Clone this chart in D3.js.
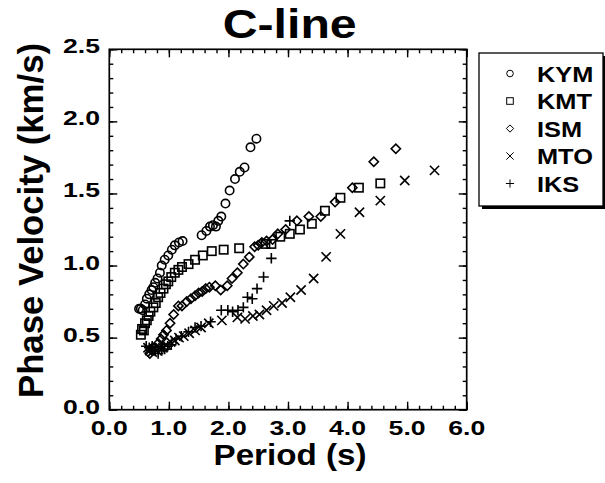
<!DOCTYPE html>
<html lang="en">
<head>
<meta charset="UTF-8"/>
<title>C-line phase velocity</title>
<script src="https://d3js.org/d3.v7.min.js"></script>
<style>
  body { margin: 0; background: #fff; }
  svg { display: block; }
  text { font-family: "Liberation Sans", Arial, sans-serif; font-weight: bold; fill: #000; }
</style>
</head>
<body>
<script>

// station names, in legend order
var stations = ["KYM", "KMT", "ISM", "MTO", "IKS"];

// [period (s), phase velocity (km/s)]
var kym = [[0.50,0.70],[0.53,0.70],[0.56,0.69],[0.60,0.73],[0.63,0.77],[0.67,0.80],[0.71,0.83],
           [0.74,0.85],[0.77,0.88],[0.81,0.91],[0.85,0.95],[0.88,1.00],[0.93,1.04],[0.99,1.07],
           [1.05,1.11],[1.10,1.14],[1.17,1.16],[1.23,1.17],[1.55,1.21],[1.63,1.24],[1.69,1.27],
           [1.74,1.28],[1.79,1.27],[1.83,1.31],[1.88,1.34],[1.95,1.43],[2.02,1.52],[2.11,1.60],
           [2.19,1.65],[2.27,1.68],[2.37,1.82],[2.47,1.88]];

var kmt = [[0.53,0.52],[0.55,0.56],[0.58,0.55],[0.60,0.60],[0.63,0.62],[0.66,0.65],[0.69,0.68],
           [0.74,0.71],[0.78,0.74],[0.82,0.78],[0.86,0.81],[0.91,0.84],[0.95,0.87],[0.99,0.89],
           [1.04,0.92],[1.10,0.95],[1.16,0.97],[1.22,0.99],[1.33,1.01],[1.44,1.04],[1.57,1.07],
           [1.72,1.10],[1.92,1.11],[2.18,1.12],[2.62,1.15],[2.72,1.15],[2.87,1.20],[3.03,1.22],
           [3.20,1.25],[3.40,1.29],[3.62,1.38],[3.88,1.47],[4.19,1.54],[4.55,1.57]];

var ism = [[0.68,0.39],[0.72,0.41],[0.76,0.43],[0.82,0.46],[0.87,0.49],[0.91,0.52],[0.96,0.55],
           [1.02,0.60],[1.08,0.66],[1.16,0.72],[1.22,0.72],[1.30,0.75],[1.37,0.77],[1.44,0.79],
           [1.50,0.81],[1.56,0.82],[1.62,0.84],[1.68,0.85],[1.78,0.86],[1.87,0.83],[1.98,0.86],
           [2.06,0.91],[2.15,0.95],[2.25,1.01],[2.35,1.06],[2.44,1.13],[2.50,1.14],[2.56,1.16],
           [2.64,1.17],[2.74,1.18],[2.83,1.22],[2.96,1.25],[3.15,1.31],[3.35,1.34],[3.55,1.34],
           [3.79,1.44],[4.08,1.54],[4.44,1.72],[4.81,1.81]];

var mto = [[0.65,0.43],[0.68,0.41],[0.72,0.40],[0.76,0.42],[0.80,0.41],[0.85,0.43],[0.90,0.43],
           [0.96,0.45],[1.03,0.47],[1.10,0.48],[1.17,0.50],[1.25,0.51],[1.34,0.53],[1.44,0.55],
           [1.54,0.57],[1.67,0.60],[1.89,0.62],[2.15,0.64],[2.28,0.63],[2.41,0.65],[2.52,0.66],
           [2.64,0.69],[2.76,0.72],[2.90,0.74],[3.04,0.78],[3.22,0.83],[3.43,0.91],[3.64,1.06],
           [3.88,1.22],[4.20,1.37],[4.55,1.45],[4.96,1.59],[5.46,1.66]];

var iks = [[0.62,0.44],[0.67,0.43],[0.72,0.44],[0.77,0.41],[0.82,0.39],[0.88,0.41],[0.93,0.42],
           [0.98,0.44],[1.04,0.45],[1.12,0.49],[1.21,0.51],[1.33,0.54],[1.44,0.57],[1.54,0.58],
           [1.70,0.61],[1.88,0.69],[1.99,0.69],[2.07,0.68],[2.16,0.69],[2.25,0.71],[2.32,0.78],
           [2.40,0.77],[2.48,0.84],[2.59,0.92],[2.72,1.05],[3.03,1.31]];

var seriesData = [kym, kmt, ism, mto, iks];

// axis ticks
var xMajor = [0, 1, 2, 3, 4, 5, 6];
var yMajor = [0, 0.5, 1.0, 1.5, 2.0, 2.5];

var w = 605, h = 483;

var xScale = d3.scaleLinear().domain([0, 6]).range([109.3, 466.7]);
var yScale = d3.scaleLinear().domain([0, 2.5]).range([409.7, 49.3]);

var svg = d3.select("body").append("svg")
    .attr("width", w)
    .attr("height", h);

// marker shapes
function marker(g, kind, s, sw) {
    if (kind === "KYM") {
        g.append("circle").attr("r", s * 0.5).attr("fill", "none").attr("stroke", "#000").attr("stroke-width", sw);
    } else if (kind === "KMT") {
        g.append("rect").attr("x", -s / 2).attr("y", -s / 2).attr("width", s).attr("height", s)
            .attr("fill", "none").attr("stroke", "#000").attr("stroke-width", sw);
    } else if (kind === "ISM") {
        var d = s * 0.55;
        g.append("path").attr("d", "M0," + (-d) + "L" + d + ",0L0," + d + "L" + (-d) + ",0Z")
            .attr("fill", "none").attr("stroke", "#000").attr("stroke-width", sw);
    } else if (kind === "MTO") {
        var c = s * 0.55;
        g.append("path").attr("d", "M" + (-c) + "," + (-c) + "L" + c + "," + c + "M" + (-c) + "," + c + "L" + c + "," + (-c))
            .attr("fill", "none").attr("stroke", "#000").attr("stroke-width", sw);
    } else {
        var p = s * 0.62;
        g.append("path").attr("d", "M" + (-p) + ",0L" + p + ",0M0," + (-p) + "L0," + p)
            .attr("fill", "none").attr("stroke", "#000").attr("stroke-width", sw);
    }
}

// points
seriesData.forEach(function(data, i) {
    svg.append("g").selectAll("g")
        .data(data)
        .enter()
        .append("g")
        .attr("transform", function(d) {
            return "translate(" + xScale(d[0]) + "," + yScale(d[1]) + ")";
        })
        .each(function() {
            marker(d3.select(this), stations[i], 8.4, 1.6);
        });
});

// ticks on all four sides, pointing inward
var xMinor = d3.range(0, 6.01, 0.2);
var yMinor = d3.range(0, 2.51, 0.1);

function tickAxis(axis, scale, minor, major, transform) {
    svg.append("g").attr("transform", transform)
        .call(axis(scale).tickValues(minor).tickSize(-4).tickFormat(""))
        .call(function(g) { g.select(".domain").remove(); });
    svg.append("g").attr("transform", transform)
        .call(axis(scale).tickValues(major).tickSize(-8).tickFormat(""))
        .call(function(g) { g.select(".domain").remove(); });
}

tickAxis(d3.axisBottom, xScale, xMinor, xMajor, "translate(0," + yScale(0) + ")");
tickAxis(d3.axisTop, xScale, xMinor, xMajor, "translate(0," + yScale(2.5) + ")");
tickAxis(d3.axisLeft, yScale, yMinor, yMajor, "translate(" + xScale(0) + ",0)");
tickAxis(d3.axisRight, yScale, yMinor, yMajor, "translate(" + xScale(6) + ",0)");

svg.selectAll(".tick line").attr("stroke", "#000").attr("stroke-width", 1.4);

// frame
svg.append("rect")
    .attr("x", xScale(0)).attr("y", yScale(2.5))
    .attr("width", xScale(6) - xScale(0))
    .attr("height", yScale(0) - yScale(2.5))
    .attr("fill", "none").attr("stroke", "#000").attr("stroke-width", 1.7);

// tick labels
svg.append("g").selectAll("text")
    .data(xMajor)
    .enter()
    .append("text")
    .attr("x", function(d) { return xScale(d); })
    .attr("y", 435)
    .attr("text-anchor", "middle")
    .attr("font-size", 20.5)
    .attr("textLength", 37)
    .attr("lengthAdjust", "spacingAndGlyphs")
    .text(function(d) { return d.toFixed(1); });

svg.append("g").selectAll("text")
    .data(yMajor)
    .enter()
    .append("text")
    .attr("x", 100)
    .attr("y", function(d) { return yScale(d) + 4; })
    .attr("text-anchor", "end")
    .attr("font-size", 21)
    .attr("textLength", 37)
    .attr("lengthAdjust", "spacingAndGlyphs")
    .text(function(d) { return d.toFixed(1); });

// title and axis titles
svg.append("text")
    .attr("x", 289.7).attr("y", 38)
    .attr("text-anchor", "middle")
    .attr("font-size", 41)
    .attr("textLength", 134)
    .attr("lengthAdjust", "spacingAndGlyphs")
    .text("C-line");

svg.append("text")
    .attr("x", 290).attr("y", 465)
    .attr("text-anchor", "middle")
    .attr("font-size", 29)
    .attr("textLength", 153)
    .attr("lengthAdjust", "spacingAndGlyphs")
    .text("Period (s)");

svg.append("text")
    .attr("transform", "translate(43,220.5) rotate(-90)")
    .attr("text-anchor", "middle")
    .attr("font-size", 35)
    .attr("textLength", 355)
    .attr("lengthAdjust", "spacingAndGlyphs")
    .text("Phase Velocity (km/s)");

// legend
var legend = svg.append("g");

legend.append("rect")
    .attr("x", 482).attr("y", 56).attr("width", 124).attr("height", 153)
    .attr("fill", "#000");
legend.append("rect")
    .attr("x", 479).attr("y", 53).attr("width", 124).attr("height", 153)
    .attr("fill", "#fff").attr("stroke", "#000").attr("stroke-width", 1.3);

var rows = legend.selectAll("g.row")
    .data(stations)
    .enter()
    .append("g")
    .attr("class", "row")
    .attr("transform", function(d, i) { return "translate(0," + (73.5 + i * 27.5) + ")"; });

rows.append("g")
    .attr("transform", "translate(510,0)")
    .each(function(d) { marker(d3.select(this), d, 6.6, 1); });

rows.append("text")
    .attr("transform", "translate(537,8) scale(1.18,1)")
    .attr("font-size", 21.5)
    .text(function(d) { return d; });

</script>
</body>
</html>
